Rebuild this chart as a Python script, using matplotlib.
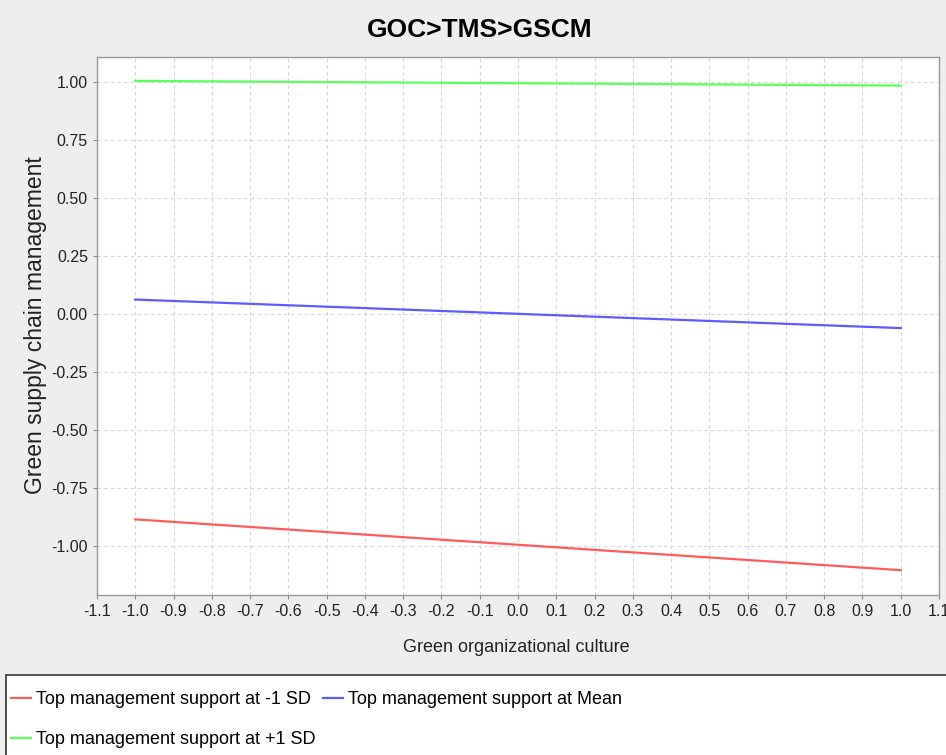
import numpy as np
import matplotlib.pyplot as plt
from matplotlib.patches import Rectangle

narrow = ['Liberation Sans Narrow', 'Liberation Sans', 'DejaVu Sans']
plt.rcParams['font.family'] = narrow

# simple slopes: x at -1 and +1
x_vals = [-1.0, 1.0]
low_sd = [-0.884, -1.103]
mean_sd = [0.063, -0.060]
high_sd = [1.005, 0.985]
labels = ['Top management support at -1 SD',
          'Top management support at Mean',
          'Top management support at +1 SD']
colors = ['#ff5b5b', '#5b5bff', '#5bff5b']

x_ticks = np.round(np.arange(-1.1, 1.11, 0.1), 1)
y_ticks = [-1.0, -0.75, -0.5, -0.25, 0.0, 0.25, 0.5, 0.75, 1.0]

fig = plt.figure(figsize=(9.46, 7.55), dpi=100)
fig.patch.set_facecolor('#eeeeee')
ax = fig.add_axes([0.1025, 0.2119, 0.8901, 0.7126])
ax.set_facecolor('white')

lines = []
for ys, c, lab in zip([low_sd, mean_sd, high_sd], colors, labels):
    ln, = ax.plot(x_vals, ys, color=c, lw=1.6, label=lab)
    lines.append(ln)

ax.set_xlim(-1.1, 1.1)
ax.set_ylim(-1.21, 1.108)
ax.set_xticks(x_ticks)
ax.set_xticklabels(['%.1f' % v for v in x_ticks])
ax.set_yticks(y_ticks)
ax.set_yticklabels(['%.2f' % v for v in y_ticks])
ax.tick_params(labelsize=11.5, colors='#888888', labelcolor='#222222', length=3, width=0.8)
ax.grid(True, color='#d4d4d4', linestyle=(0, (3, 3)), lw=0.8)
ax.set_axisbelow(True)
for s in ax.spines.values():
    s.set_color('#999999')
    s.set_linewidth(1.0)

fig.text(0.507, 0.960, 'GOC>TMS>GSCM', ha='center', va='center',
         fontsize=19, fontweight='bold', family=narrow)
fig.text(0.546, 0.143, 'Green organizational culture', ha='center', va='center',
         fontsize=13, color='#222222')
fig.text(0.037, 0.57, 'Green supply chain management', ha='center', va='center',
         rotation=90, fontsize=16.5, color='#222222',
         family=['Liberation Sans', 'DejaVu Sans'])

# legend box
fig.patches.append(Rectangle((0.006, -0.01), 1.0, 0.116, transform=fig.transFigure,
                             facecolor='white', edgecolor='#333333', lw=1.2))
leg = fig.legend([lines[0], lines[2], lines[1]], [labels[0], labels[2], labels[1]],
                 loc='upper left', bbox_to_anchor=(0.004, 0.094), ncol=2,
                 frameon=False, fontsize=13, handlelength=1.1, handletextpad=0.3,
                 columnspacing=0.4, labelspacing=1.25, borderaxespad=0)

fig.savefig('out.png', dpi=100, facecolor=fig.get_facecolor())
